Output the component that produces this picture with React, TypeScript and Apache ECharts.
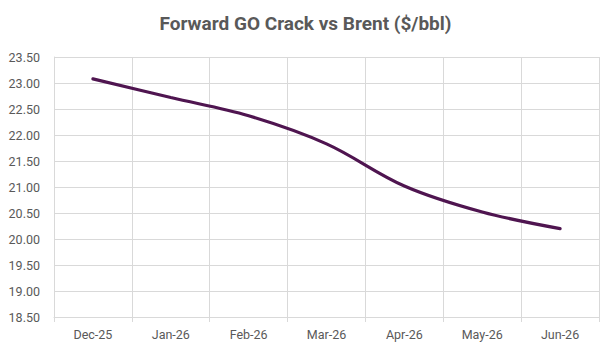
import React, { useEffect, useRef } from "react";
import * as echarts from "echarts";

const categories = ["Dec-25", "Jan-26", "Feb-26", "Mar-26", "Apr-26", "May-26", "Jun-26"];
const crackValues = [23.08, 22.72, 22.37, 21.83, 21.02, 20.52, 20.2];
const titleText = "Forward GO Crack vs Brent ($/bbl)";

const FONT = "Roboto, 'Noto Sans', sans-serif";

export default function App() {
  const ref = useRef<HTMLDivElement>(null);
  useEffect(() => {
    if (!ref.current) return;
    const chart = echarts.init(ref.current, undefined, { renderer: "svg" });
    chart.setOption({
      animation: false,
      backgroundColor: "#ffffff",
      title: {
        text: titleText,
        left: "center",
        top: 9,
        textStyle: { fontFamily: FONT, fontSize: 19, fontWeight: "bold", color: "#595959" },
      },
      grid: { left: 54, right: 12, top: 57, bottom: 38 },
      xAxis: {
        type: "category",
        data: categories,
        boundaryGap: true,
        axisLine: { show: true, lineStyle: { color: "#D9D9D9", width: 1 } },
        axisTick: { show: true, length: 5, lineStyle: { color: "#D9D9D9" } },
        splitLine: { show: true, lineStyle: { color: "#D9D9D9", width: 1 } },
        axisLabel: { color: "#595959", fontFamily: FONT, fontSize: 12.5, margin: 11 },
      },
      yAxis: {
        type: "value",
        min: 18.5,
        max: 23.5,
        interval: 0.5,
        axisLine: { show: true, lineStyle: { color: "#D9D9D9", width: 1 } },
        axisTick: { show: false },
        splitLine: { show: true, lineStyle: { color: "#D9D9D9", width: 1 } },
        axisLabel: {
          color: "#595959",
          fontFamily: FONT,
          fontSize: 12.5,
          margin: 14,
          formatter: (v: number) => v.toFixed(2),
        },
      },
      series: [
        {
          type: "line",
          data: crackValues,
          smooth: 0.35,
          symbol: "none",
          lineStyle: { color: "#4F1550", width: 3.2, cap: "round" },
        },
      ],
    });
    return () => chart.dispose();
  }, []);
  return (
    <div
      ref={ref}
      style={{ position: "absolute", left: 0, top: 0, width: 611, height: 355 }}
    />
  );
}
